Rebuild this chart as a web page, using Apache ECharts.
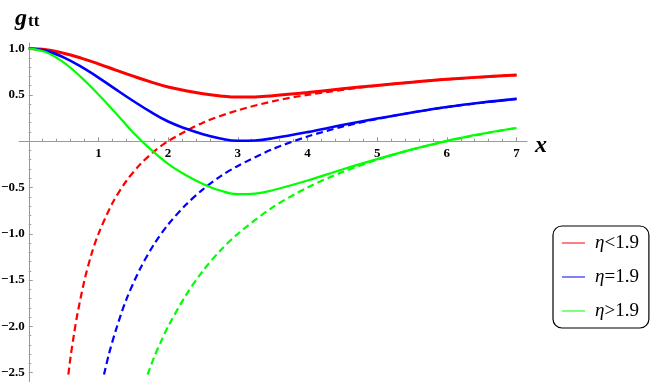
<!DOCTYPE html>
<html>
<head>
<meta charset="utf-8">
<script src="https://cdn.jsdelivr.net/npm/echarts@6/dist/echarts.min.js"></script>
<style>
  html, body { margin: 0; padding: 0; background: #fff; }
  #chart { width: 654px; height: 382px; }
</style>
</head>
<body>
<div id="chart"></div>
<script>
// solid curves, sampled on the same x grid
const xs = [0, 0.25, 0.5, 0.75, 1, 1.25, 1.5, 1.75, 2, 2.25, 2.5, 2.75, 3, 3.25, 3.5, 4, 4.5, 5, 5.5, 6, 6.5, 7];
const redSolid   = [1.0, 0.987, 0.95, 0.897, 0.835, 0.768, 0.702, 0.64, 0.585, 0.545, 0.513, 0.489, 0.476, 0.478, 0.49, 0.525, 0.565, 0.602, 0.637, 0.668, 0.693, 0.714];
const blueSolid  = [1.0, 0.975, 0.905, 0.804, 0.687, 0.559, 0.434, 0.316, 0.212, 0.136, 0.075, 0.029, 0.004, 0.008, 0.031, 0.098, 0.174, 0.244, 0.31, 0.369, 0.417, 0.457];
const greenSolid = [1.0, 0.961, 0.85, 0.691, 0.505, 0.302, 0.092, -0.088, -0.245, -0.365, -0.461, -0.533, -0.572, -0.566, -0.53, -0.425, -0.305, -0.194, -0.089, 0.004, 0.079, 0.142];

// dashed curves
const redDashX = [0.568, 0.6, 0.65, 0.7, 0.8, 0.9, 1.0, 1.2, 1.4, 1.6, 1.8, 2.0, 2.5, 3.0, 3.5, 4.0, 5.0, 6.0, 7.0];
const redDashY = [-2.52, -2.33, -2.08, -1.86, -1.5, -1.22, -1.0, -0.67, -0.43, -0.25, -0.11, 0.0, 0.2, 0.333, 0.43, 0.5, 0.6, 0.667, 0.714];
const blueDashX = [1.08, 1.15, 1.25, 1.4, 1.6, 1.8, 2.0, 2.25, 2.5, 2.75, 3.0, 3.5, 4.0, 4.5, 5.0, 5.5, 6.0, 6.5, 7.0];
const blueDashY = [-2.52, -2.3, -2.04, -1.71, -1.375, -1.11, -0.9, -0.69, -0.52, -0.38, -0.267, -0.086, 0.05, 0.156, 0.24, 0.31, 0.367, 0.415, 0.457];
const greenDashX = [1.705, 1.8, 1.9, 2.0, 2.25, 2.5, 2.75, 3.0, 3.5, 4.0, 4.5, 5.0, 5.5, 6.0, 6.5, 7.0];
const greenDashY = [-2.52, -2.33, -2.16, -2.0, -1.67, -1.4, -1.18, -1.0, -0.714, -0.5, -0.333, -0.2, -0.09, 0.0, 0.077, 0.143];

const names = ['η<1.9', 'η=1.9', 'η>1.9'];
const colors = ['#ff0000', '#0000ff', '#00ff00'];

const xLabels = [1, 2, 3, 4, 5, 6, 7];
const yLabels = [-2.5, -2.0, -1.5, -1.0, -0.5, 0.5, 1.0];
const xMinor = [];
for (let i = 1; i <= 35; i++) if (i % 5) xMinor.push(i / 5);
const yMinor = [];
for (let i = -25; i <= 10; i++) if (i % 5) yMinor.push(i / 10);

const serif = 'Liberation Serif';
const pairs = (a, b) => a.map((v, i) => [v, b[i]]);

// plot box and ranges; axes are moved onto x=0 / y=0 with offset
const G = {left: 19, top: 43, width: 508, height: 339};
const xMin = -0.14, xMax = 7.15, yMin = -2.6, yMax = 1.06;
const yAxisOffset = -(0 - xMin) / (xMax - xMin) * G.width;
const xAxisOffset = -(0 - yMin) / (yMax - yMin) * G.height;

const chart = echarts.init(document.getElementById('chart'));

const axisGray = '#999';
const labelFont = {fontFamily: serif, fontSize: 13, fontWeight: 'bold', color: '#000'};
const option = {
  animation: false,
  grid: Object.assign({containLabel: false, outerBoundsMode: 'none'}, G),
  legend: {
    data: names,
    orient: 'vertical',
    left: 553,
    top: 226,
    icon: 'rect',
    itemWidth: 23,
    itemHeight: 1,
    itemGap: 14,
    padding: [7, 10, 7, 9],
    borderColor: '#000',
    borderWidth: 1.2,
    borderRadius: 9,
    backgroundColor: '#fff',
    formatter: n => '{e|η}{n|' + n.slice(1) + '}',
    textStyle: {
      fontFamily: serif, fontSize: 19, color: '#000', lineHeight: 20,
      rich: {
        e: {fontFamily: serif, fontSize: 19, fontStyle: 'italic', padding: [0, 0, 0, 5]},
        n: {fontFamily: serif, fontSize: 19}
      }
    }
  },
  graphic: [
    {type: 'text', left: 15, top: 7, style: {text: 'g', fontFamily: serif, fontSize: 24, fontWeight: 'bold', fontStyle: 'italic', fill: '#000'}},
    {type: 'text', left: 28, top: 13, style: {text: 'tt', fontFamily: serif, fontSize: 17, fontWeight: 'bold', fill: '#000'}},
    {type: 'text', left: 535, top: 134, style: {text: 'x', fontFamily: serif, fontSize: 24, fontWeight: 'bold', fontStyle: 'italic', fill: '#000'}}
  ],
  xAxis: [
    {
      type: 'value', min: xMin, max: xMax, position: 'bottom', offset: xAxisOffset,
      axisLine: {onZero: false, lineStyle: {color: axisGray, width: 1}},
      axisTick: {inside: true, length: 4, customValues: xLabels, lineStyle: {color: axisGray}},
      axisLabel: Object.assign({customValues: xLabels, margin: 6}, labelFont),
      splitLine: {show: false}
    },
    {
      type: 'value', min: xMin, max: xMax, position: 'bottom', offset: xAxisOffset,
      axisLine: {show: false, onZero: false},
      axisTick: {inside: true, length: 2.5, customValues: xMinor, lineStyle: {color: axisGray}},
      axisLabel: {show: false},
      splitLine: {show: false}
    }
  ],
  yAxis: [
    {
      type: 'value', min: yMin, max: yMax, position: 'left', offset: yAxisOffset,
      axisLine: {onZero: false, lineStyle: {color: axisGray, width: 1}},
      axisTick: {inside: true, length: 4, customValues: yLabels, lineStyle: {color: axisGray}},
      axisLabel: Object.assign({
        customValues: yLabels, margin: 4,
        formatter: v => (v < 0 ? '\u2212' : '') + Math.abs(v).toFixed(1)
      }, labelFont),
      splitLine: {show: false}
    },
    {
      type: 'value', min: yMin, max: yMax, position: 'left', offset: yAxisOffset,
      axisLine: {show: false, onZero: false},
      axisTick: {inside: true, length: 2.5, customValues: yMinor, lineStyle: {color: axisGray}},
      axisLabel: {show: false},
      splitLine: {show: false}
    }
  ],
  series: [
    {name: 'd1', type: 'line', data: pairs(redDashX, redDashY), showSymbol: false, smooth: 0.3,
      lineStyle: {color: colors[0], width: 2.2, type: [7, 4]}, itemStyle: {color: colors[0]}},
    {name: 'd2', type: 'line', data: pairs(blueDashX, blueDashY), showSymbol: false, smooth: 0.3,
      lineStyle: {color: colors[1], width: 2.2, type: [7, 4]}, itemStyle: {color: colors[1]}},
    {name: 'd3', type: 'line', data: pairs(greenDashX, greenDashY), showSymbol: false, smooth: 0.3,
      lineStyle: {color: colors[2], width: 2.2, type: [7, 4]}, itemStyle: {color: colors[2]}},
    {name: names[0], type: 'line', data: pairs(xs, redSolid), showSymbol: false, smooth: 0.4,
      lineStyle: {color: colors[0], width: 3}, itemStyle: {color: colors[0]}},
    {name: names[1], type: 'line', data: pairs(xs, blueSolid), showSymbol: false, smooth: 0.4,
      lineStyle: {color: colors[1], width: 2.6}, itemStyle: {color: colors[1]}},
    {name: names[2], type: 'line', data: pairs(xs, greenSolid), showSymbol: false, smooth: 0.4,
      lineStyle: {color: colors[2], width: 2.2}, itemStyle: {color: colors[2]}}
  ]
};
chart.setOption(option);
</script>
</body>
</html>
